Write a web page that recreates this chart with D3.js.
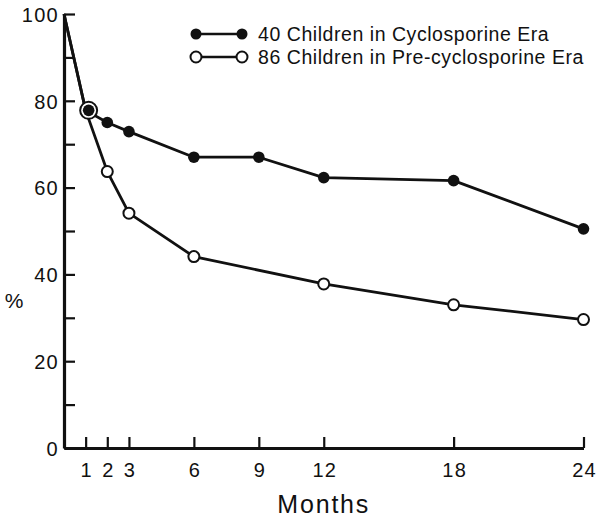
<!DOCTYPE html>
<html>
<head>
<meta charset="utf-8">
<script src="https://cdn.jsdelivr.net/npm/d3@7"></script>
<style>
  html, body { margin: 0; padding: 0; background: #fff; }
  svg { display: block; }
  text { font-family: "Liberation Sans", Arial, Helvetica, sans-serif; fill: #111; }
</style>
</head>
<body>
<svg id="chart" width="600" height="520"></svg>
<script>
// ---- data ----
const months = [0, 1, 2, 3, 6, 9, 12, 18, 24];
const cyclosporine = [100, 77.8, 75.0, 72.9, 67.0, 67.0, 62.3, 61.6, 50.5];
const preMonths = [0, 1, 2, 3, 6, 12, 18, 24];
const preCyclosporine = [100, 77.8, 63.7, 54.1, 44.1, 37.8, 33.0, 29.6];
const xTickValues = [1, 2, 3, 6, 9, 12, 18, 24];
const yTickValues = [0, 10, 20, 30, 40, 50, 60, 70, 80, 90, 100];
const yLabelValues = [0, 20, 40, 60, 80, 100];
const legendLabels = ["40 Children in Cyclosporine Era", "86 Children in Pre-cyclosporine Era"];
const xTitle = "Months";
const yTitle = "%";

// ---- layout ----
const svg = d3.select("#chart");
const ink = "#111";
const x = d3.scaleLinear().domain([0, 24]).range([64, 583.5]);
const y = d3.scaleLinear().domain([0, 100]).range([448, 14]);

// axes
const yAxis = d3.axisLeft(y)
  .tickValues(yTickValues)
  .tickSize(-11)
  .tickSizeOuter(0)
  .tickPadding(5)
  .tickFormat(d => yLabelValues.includes(d) ? d : "");
const gy = svg.append("g").attr("transform", `translate(${x(0)},0)`).call(yAxis);

const xAxis = d3.axisBottom(x)
  .tickValues(xTickValues)
  .tickSize(-11)
  .tickSizeOuter(0)
  .tickPadding(15);
const gx = svg.append("g").attr("transform", `translate(0,${y(0)})`).call(xAxis);

[gx, gy].forEach(g => {
  g.select(".domain").attr("stroke", ink).attr("stroke-width", 3.2);
  g.selectAll(".tick line").attr("stroke", ink).attr("stroke-width", 2.2);
  g.selectAll(".tick text")
    .style("font-family", '"Liberation Sans", Arial, Helvetica, sans-serif')
    .style("font-size", "20px")
    .style("letter-spacing", "1.3px")
    .attr("fill", ink);
});
gy.selectAll(".tick text").attr("dy", "0.36em");
gx.selectAll(".tick text").attr("dx", "0.6");

// axis titles
svg.append("text")
  .attr("x", x(12)).attr("y", 513)
  .attr("text-anchor", "middle")
  .style("font-size", "25px")
  .style("letter-spacing", "1.8px")
  .text(xTitle);
svg.append("text")
  .attr("x", 14).attr("y", 300)
  .attr("text-anchor", "middle")
  .attr("dominant-baseline", "central")
  .style("font-size", "21px")
  .text(yTitle);

// series
const seriesA = months.map((m, i) => ({ m, v: cyclosporine[i] }));
const seriesB = preMonths.map((m, i) => ({ m, v: preCyclosporine[i] }));
const line = d3.line().x(d => x(d.m)).y(d => y(d.v));

svg.append("path").datum(seriesB).attr("d", line)
  .attr("fill", "none").attr("stroke", ink).attr("stroke-width", 2.8).attr("stroke-linejoin", "round");
svg.append("path").datum(seriesA).attr("d", line)
  .attr("fill", "none").attr("stroke", ink).attr("stroke-width", 2.8).attr("stroke-linejoin", "round");

// open markers (skip month 0); where coincident with filled series draw a larger ring
const shared = d => seriesA.some(a => a.m === d.m && a.v === d.v);
svg.append("g").selectAll("circle")
  .data(seriesB.filter(d => d.m > 0))
  .join("circle")
  .attr("cx", d => x(d.m) + (shared(d) ? 3 : 0))
  .attr("cy", d => y(d.v))
  .attr("r", d => shared(d) ? 8.5 : 5.5)
  .attr("fill", "#fff").attr("stroke", ink).attr("stroke-width", 2);

svg.append("g").selectAll("circle")
  .data(seriesA.filter(d => d.m > 0))
  .join("circle")
  .attr("cx", d => x(d.m) + (d.m === 1 ? 3 : 0))
  .attr("cy", d => y(d.v))
  .attr("r", 5.8)
  .attr("fill", ink);

// legend
const legend = svg.append("g");
[0, 1].forEach(i => {
  const ly = 34 + i * 23;
  legend.append("line").attr("x1", 196).attr("x2", 242).attr("y1", ly).attr("y2", ly)
    .attr("stroke", ink).attr("stroke-width", 2.6);
  [196, 242].forEach(cx => {
    legend.append("circle").attr("cx", cx).attr("cy", ly).attr("r", 5.5)
      .attr("fill", i === 0 ? ink : "#fff")
      .attr("stroke", ink).attr("stroke-width", i === 0 ? 0 : 2);
  });
  legend.append("text").attr("x", 258).attr("y", ly)
    .attr("dominant-baseline", "central")
    .style("font-size", "19.5px")
    .style("letter-spacing", "0.55px")
    .text(legendLabels[i]);
});
</script>
</body>
</html>
